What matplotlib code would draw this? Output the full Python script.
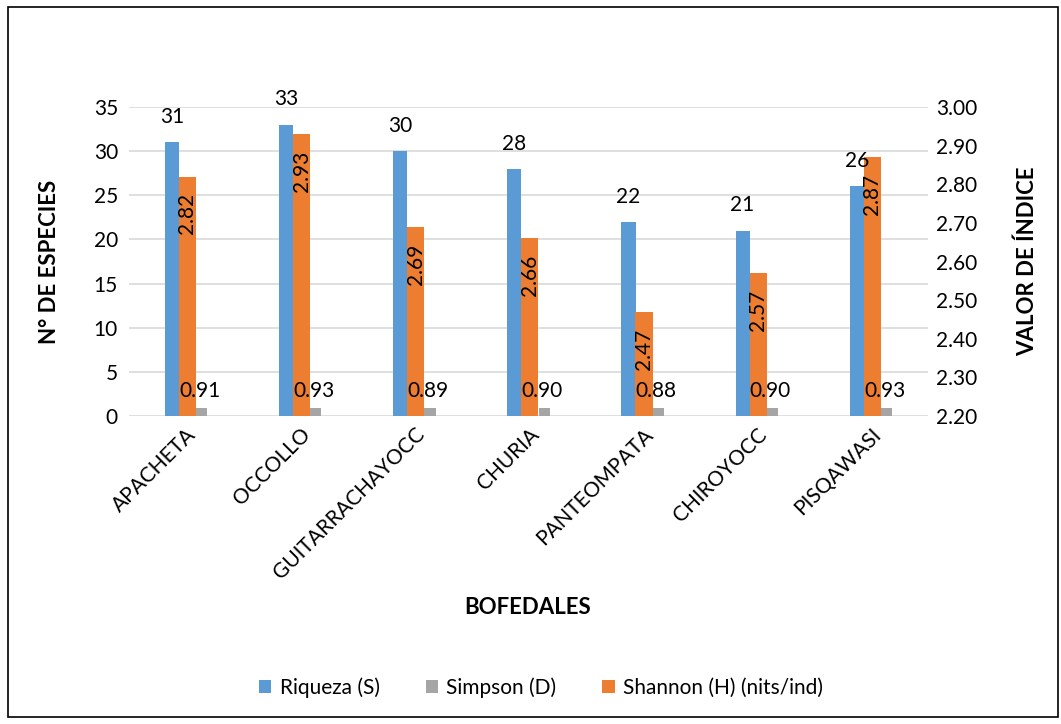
import numpy as np
import matplotlib
matplotlib.use('Agg')
import matplotlib.pyplot as plt
from matplotlib.patches import Rectangle

plt.rcParams['font.family'] = ['Lato', 'DejaVu Sans']

bofedales = ['APACHETA', 'OCCOLLO', 'GUITARRACHAYOCC', 'CHURIA',
             'PANTEOMPATA', 'CHIROYOCC', 'PISQAWASI']
riqueza = [31, 33, 30, 28, 22, 21, 26]
simpson = [0.91, 0.93, 0.89, 0.90, 0.88, 0.90, 0.93]
shannon = [2.82, 2.93, 2.69, 2.66, 2.47, 2.57, 2.87]

c_blue = '#5B9BD5'
c_gray = '#A5A5A5'
c_orange = '#ED7D31'

fig = plt.figure(figsize=(10.61, 7.24), dpi=100)
ax = fig.add_axes([0.1216, 0.4254, 0.753, 0.4268])
ax2 = ax.twinx()

x = np.arange(len(bofedales))
b1 = ax.bar(x - 0.124, riqueza, width=0.124, color=c_blue, label='Riqueza (S)', zorder=2)
b2 = ax.bar(x + 0.137, simpson, width=0.097, color=c_gray, label='Simpson (D)', zorder=2)
b3 = ax2.bar(x + 0.012, shannon, width=0.15, bottom=0, color=c_orange,
             label='Shannon (H) (nits/ind)', zorder=2)

ax.set_ylim(0, 35)
ax.set_yticks(range(0, 36, 5))
ax2.set_ylim(2.2, 3.0)
ax2.set_yticks(np.arange(2.2, 3.001, 0.1))
ax2.set_yticklabels(['%.2f' % v for v in np.arange(2.2, 3.001, 0.1)])
ax.set_xlim(-0.5, len(bofedales) - 0.5)

ax.grid(axis='y', color='#D9D9D9', linewidth=1.2, zorder=0)
ax.set_axisbelow(True)
for a in (ax, ax2):
    for s in a.spines.values():
        s.set_visible(False)
    a.tick_params(length=0, labelsize=15, colors='black')
ax.tick_params(axis='y', pad=8)
ax2.tick_params(axis='y', pad=6)

ax.set_xticks(x)
ax.set_xticklabels(bofedales, rotation=45, ha='right', rotation_mode='anchor', fontsize=15)
ax.tick_params(axis='x', pad=6)

ax.set_ylabel('N° DE ESPECIES', fontsize=16, fontweight='bold', labelpad=24)
ax2.set_ylabel('VALOR DE ÍNDICE', fontsize=16, fontweight='bold', labelpad=28)
fig.text(0.497, 0.161, 'BOFEDALES', fontsize=16, fontweight='bold', ha='center', va='center')

# data labels, drawn on top axes so they sit above the orange bars
for i in range(len(bofedales)):
    ax2.annotate(str(riqueza[i]), (x[i] - 0.124, riqueza[i]), xycoords=ax.transData,
                 xytext=(0, 11), textcoords='offset points', ha='center', va='bottom',
                 fontsize=15, zorder=5)
    ax2.annotate('%.2f' % simpson[i], (x[i] + 0.12, simpson[i]), xycoords=ax.transData,
                 xytext=(0, 5), textcoords='offset points', ha='center', va='bottom',
                 fontsize=15, zorder=5)
    ax2.annotate('%.2f' % shannon[i], (x[i] + 0.012, shannon[i]), xycoords=ax2.transData,
                 xytext=(0, -12), textcoords='offset points', ha='center', va='top',
                 rotation=90, fontsize=15, zorder=5)

fig.legend(handles=[b1, b2, b3], loc='center', bbox_to_anchor=(0.51, 0.05), ncol=3,
           frameon=False, fontsize=15, handlelength=0.6, handleheight=0.6,
           handletextpad=0.4, columnspacing=2.2)

fig.patches.append(Rectangle((0.008, 0.01), 0.989, 0.98, transform=fig.transFigure,
                             fill=False, edgecolor='black', linewidth=1.2))

fig.savefig('out.png', dpi=100)
